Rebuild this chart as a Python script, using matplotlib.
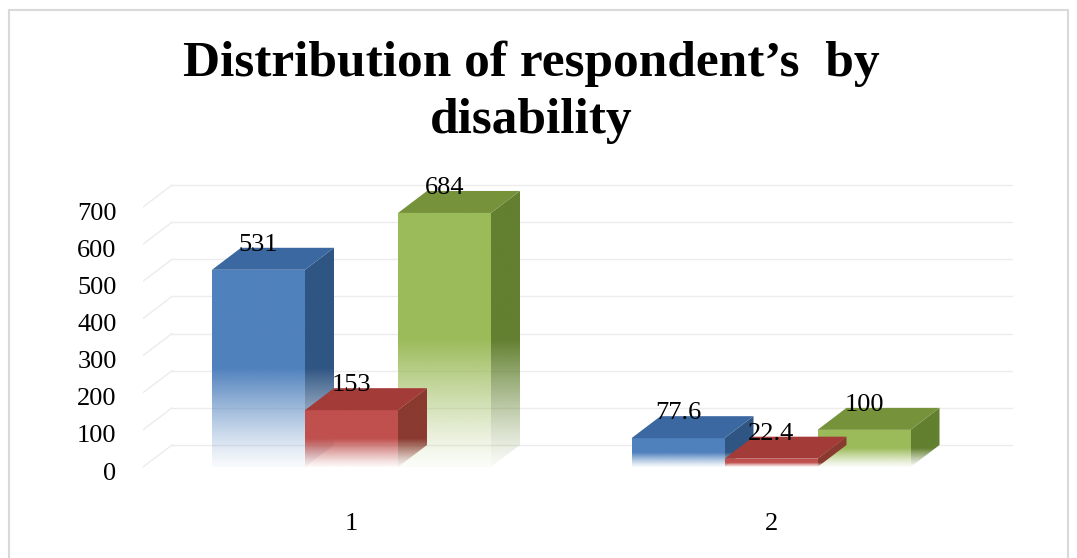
import numpy as np
import matplotlib
matplotlib.use("Agg")
import matplotlib.pyplot as plt
from matplotlib.patches import Polygon, Rectangle
from matplotlib.colors import to_rgb
from matplotlib.transforms import ScaledTranslation

# ---------------- data ----------------
categories = ["1", "2"]
series_a = [531, 77.6]   # blue
series_b = [153, 22.4]   # red
series_c = [684, 100]    # green
value_labels_a = ["531", "77.6"]
value_labels_b = ["153", "22.4"]
value_labels_c = ["684", "100"]
y_ticks = [0, 100, 200, 300, 400, 500, 600, 700]
title_lines = ["Distribution of respondent\u2019s  by", "disability"]

# ---------------- styling ----------------
W, H, DPI = 1077, 558, 100
fig = plt.figure(figsize=(W / DPI, H / DPI), dpi=DPI)
fig.patch.set_facecolor("white")

SERIF = ["Liberation Serif", "DejaVu Serif"]

# axes placement (pixels, measured from top-left)
px_left, px_right = 143, 1013
px_zero, px_per_unit = 467, 0.3714
ylo, yhi = -30, 780
cat1_px, px_per_cat = 351.5, 419.5

ax_bottom = (H - (px_zero - ylo * px_per_unit)) / H
ax_height = (yhi - ylo) * px_per_unit / H
ax = fig.add_axes([px_left / W, ax_bottom, (px_right - px_left) / W, ax_height])
xlo = 1 - (cat1_px - px_left) / px_per_cat
xhi = 1 + (px_right - cat1_px) / px_per_cat

bar_w = 93 / px_per_cat          # bar width in category units
depth_x = 29 / px_per_cat        # 3D depth offsets
depth_y = 22 / px_per_unit

# back wall gridlines + left wall diagonals
grid_col = "#ececec"
for v in y_ticks:
    ax.plot([xlo + depth_x, xhi], [v + depth_y, v + depth_y], color=grid_col, lw=1.0, zorder=0)
    ax.plot([xlo, xlo + depth_x], [v, v + depth_y], color=grid_col, lw=1.0, zorder=0)

def grad_face(poly_xy, color, vmax, z):
    poly = Polygon(poly_xy, closed=True, facecolor="none", edgecolor="none")
    ax.add_patch(poly)
    xs = [p[0] for p in poly_xy]
    ys = [p[1] for p in poly_xy]
    n = 200
    yy = np.linspace(min(ys), max(ys), n)
    frac = np.clip(yy / vmax, 0, 1) if vmax > 0 else np.ones(n)
    alpha = np.clip(frac / 0.5, 0.0, 1.0) ** 1.2
    alpha = 0.04 + 0.96 * alpha
    r, g, b = to_rgb(color)
    img = np.zeros((n, 2, 4))
    img[:, :, 0] = r
    img[:, :, 1] = g
    img[:, :, 2] = b
    img[:, :, 3] = alpha[:, None]
    im = ax.imshow(img, extent=[min(xs), max(xs), min(ys), max(ys)], origin="lower",
                   aspect="auto", interpolation="bilinear", zorder=z)
    im.set_clip_path(poly)

def bar3d(x0, v, front, top, side, z):
    x1 = x0 + bar_w
    grad_face([(x1, 0), (x1 + depth_x, depth_y), (x1 + depth_x, v + depth_y), (x1, v)], side, v, z)
    grad_face([(x0, 0), (x1, 0), (x1, v), (x0, v)], front, v, z + 0.1)
    ax.add_patch(Polygon([(x0, v), (x1, v), (x1 + depth_x, v + depth_y), (x0 + depth_x, v + depth_y)],
                         closed=True, facecolor=top, edgecolor="none", zorder=z + 0.2))

blue, red, green = "#4f81bd", "#c0504d", "#9bbb59"
series = [
    (series_a, value_labels_a, blue, "#3b68a0", "#2f5583", 0),
    (series_c, value_labels_c, green, "#76933c", "#62802f", 2),
    (series_b, value_labels_b, red, "#a33b38", "#8a3a30", 1),
]
zbase = {0: 2, 2: 3, 1: 4}
for vals, labs, fc, tc, sc, k in series:
    for i, v in enumerate(vals):
        xc = (i + 1) + (k - 1) * bar_w
        x0 = xc - bar_w / 2
        bar3d(x0, v, fc, tc, sc, zbase[k])
        ax.text(xc, v + depth_y + 8, labs[i], ha="center", va="center",
                fontsize=19, family=SERIF, color="black", zorder=10)

ax.set_xlim(xlo, xhi)
ax.set_ylim(ylo, yhi)
ax.set_yticks(y_ticks)
ax.set_yticklabels([str(t) for t in y_ticks], family=SERIF, fontsize=19)
ax.set_xticks([1, 2])
ax.set_xticklabels(categories, family=SERIF, fontsize=19)
ax.tick_params(axis="y", length=0, pad=19)
ax.tick_params(axis="x", length=0, pad=25)
shift = ScaledTranslation(0, -4 / DPI, fig.dpi_scale_trans)
for lab in ax.get_yticklabels():
    lab.set_transform(lab.get_transform() + shift)
for s in ax.spines.values():
    s.set_visible(False)
ax.set_facecolor("none")

# title (two lines, placed at their baselines)
for line, base_px in zip(title_lines, [76, 133]):
    fig.text(531 / W, 1 - base_px / H, line, ha="center", va="baseline", fontsize=37,
             fontweight="bold", family=SERIF)

# chart border
fig.patches.append(Rectangle((8.5 / W, -0.01), (1068 - 8.5) / W, 1 - 10 / H + 0.01,
                             transform=fig.transFigure, fill=False, edgecolor="#d9d9d9",
                             lw=1.5, zorder=0))

fig.savefig("out.png", dpi=DPI)
